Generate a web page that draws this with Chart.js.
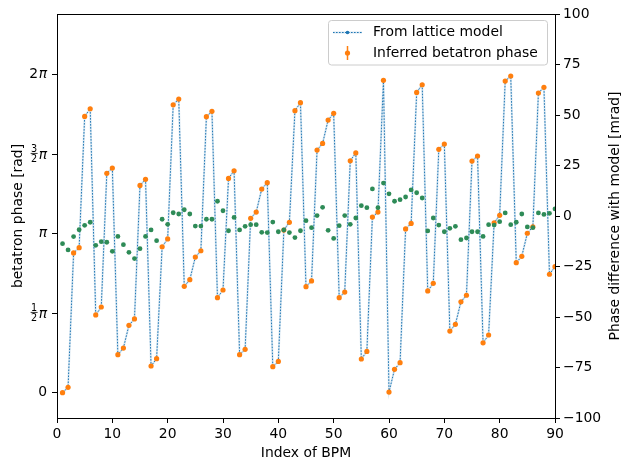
<!DOCTYPE html>
<html>
<head>
<meta charset="utf-8">
<script src="https://cdn.jsdelivr.net/npm/chart.js@4.4.0/dist/chart.umd.min.js"></script>
<style>
html, body { margin: 0; padding: 0; background: #fff; }
#wrap { width: 623px; height: 462px; }
</style>
</head>
<body>
<div id="wrap"><canvas id="chart" width="623" height="462"></canvas></div>
<script>
// BPM index along the ring
const bpmIndex = Array.from({length: 90}, (_, i) => i + 1);

// betatron phase, in units of pi (lattice model and inferred overlap at this scale)
const phaseInPi = [
  0.000, 0.034, 0.879, 0.912, 1.738, 1.786, 0.489, 0.539, 1.380, 1.413,
  0.239, 0.281, 0.424, 0.464, 1.304, 1.342, 0.168, 0.214, 0.918, 0.967,
  1.811, 1.847, 0.669, 0.711, 0.853, 0.893, 1.736, 1.770, 0.598, 0.646,
  1.348, 1.396, 0.239, 0.273, 1.097, 1.136, 1.281, 1.321, 0.164, 0.197,
  1.023, 1.072, 1.774, 1.824, 0.667, 0.703, 1.526, 1.568, 1.715, 1.757,
  0.598, 0.633, 1.459, 1.508, 0.212, 0.260, 1.105, 1.136, 1.965, 0.004,
  0.147, 0.189, 1.030, 1.065, 1.889, 1.937, 0.640, 0.688, 1.531, 1.564,
  0.388, 0.430, 0.572, 0.613, 1.457, 1.489, 0.314, 0.363, 1.069, 1.116,
  1.960, 1.992, 0.818, 0.858, 1.003, 1.044, 1.885, 1.921, 0.745, 0.793
];
const modelPhaseInPi = phaseInPi;

// phase difference with model [mrad]
const phaseDiffMrad = [
  -13.7, -16.8, -10.2, -6.8, -4.6, -3.1, -14.5, -12.7, -13.0, -17.5,
  -10.1, -14.2, -18.0, -21.1, -16.2, -10.1, -6.9, -12.2, -1.6, -4.1,
  1.6, 1.0, 3.1, 1.0, -5.0, -5.0, -1.6, -1.6, 7.3, 2.6,
  -7.3, -0.7, -6.9, -5.1, -4.3, -4.3, -8.1, -8.2, -3.0, -7.8,
  -6.9, -8.2, -10.7, -7.3, -2.3, -5.8, 0.2, 4.3, -7.1, -11.1,
  -4.8, 0.2, -4.1, -1.0, 5.1, 4.1, 13.4, 4.1, 16.3, 11.0,
  7.3, 8.1, 9.4, 12.9, 11.5, 8.9, -7.4, -1.0, -4.5, -7.8,
  -6.1, -5.1, -11.7, -10.9, -7.8, -7.8, -10.1, -4.3, -4.5, -2.8,
  1.5, -4.3, -3.1, 1.0, -5.4, -5.8, 1.5, 0.8, 1.3, 3.5
];

// left tick positions (units of pi) and their labels
const phaseTicks = [0, 0.5, 1, 1.5, 2];
const phaseTickLabels = ['0', '1/2π', 'π', '3/2π', '2π'];

const FONT = '"DejaVu Sans", sans-serif';
const BLUE = '#1f77b4';
const ORANGE = '#ff7f0e';
const GREEN = '#2e8b57';

function toPoints(ys) {
  return bpmIndex.map((x, i) => ({x: x, y: ys[i]}));
}

// draws "2π", "π", or a stacked fraction followed by an italic π, right aligned
function drawPiLabel(ctx, lab, right, y) {
  if (lab.indexOf('π') < 0) {
    ctx.font = '13.9px ' + FONT;
    ctx.textAlign = 'right';
    ctx.textBaseline = 'middle';
    ctx.fillText(lab, right, y);
    return;
  }
  const head = lab.replace('π', '');
  ctx.font = 'italic 13.9px ' + FONT;
  ctx.textAlign = 'right';
  ctx.textBaseline = 'middle';
  const frac = head.indexOf('/') >= 0;
  ctx.fillText('π', right, frac ? y + 1.5 : y);
  const piW = ctx.measureText('π').width;
  if (!frac) {
    ctx.font = '13.9px ' + FONT;
    if (head) ctx.fillText(head, right - piW - 0.5, y);
    return;
  }
  const parts = head.split('/');
  const cx = right - piW - 4.5;
  ctx.font = '9.7px ' + FONT;
  ctx.textAlign = 'center';
  ctx.textBaseline = 'alphabetic';
  ctx.fillText(parts[0], cx, y - 2.5);
  ctx.textBaseline = 'top';
  ctx.fillText(parts[1], cx, y + 0.5);
  ctx.fillRect(cx - 3.5, y - 1.3, 7, 0.8);
}

const decorations = {
  id: 'decorations',
  afterDraw(chart) {
    const ctx = chart.ctx;
    const a = chart.chartArea;
    const yLeft = chart.scales.y;
    ctx.save();

    // top spine
    ctx.strokeStyle = '#000';
    ctx.lineWidth = 1;
    ctx.beginPath();
    ctx.moveTo(a.left, a.top + 0.5);
    ctx.lineTo(a.right, a.top + 0.5);
    ctx.stroke();

    // left tick labels
    ctx.fillStyle = '#000';
    phaseTicks.forEach((v, i) => {
      drawPiLabel(ctx, phaseTickLabels[i], 47, yLeft.getPixelForValue(v));
    });

    // axis titles
    ctx.font = '13.9px ' + FONT;
    ctx.textAlign = 'center';
    ctx.textBaseline = 'middle';
    ctx.fillText('Index of BPM', (a.left + a.right) / 2, 453);
    const midY = (a.top + a.bottom) / 2;
    ctx.save();
    ctx.translate(18, midY);
    ctx.rotate(-Math.PI / 2);
    ctx.fillText('betatron phase [rad]', 0, 0);
    ctx.restore();
    ctx.save();
    ctx.translate(615, midY);
    ctx.rotate(-Math.PI / 2);
    ctx.fillText('Phase difference with model [mrad]', 0, 0);
    ctx.restore();

    // legend
    ctx.fillStyle = 'rgba(255,255,255,0.8)';
    ctx.strokeStyle = '#cccccc';
    ctx.lineWidth = 1;
    ctx.beginPath();
    ctx.roundRect(328.5, 20.5, 219, 44.5, 3);
    ctx.fill();
    ctx.stroke();

    ctx.strokeStyle = 'rgba(31,119,180,0.18)';
    ctx.lineWidth = 2;
    ctx.beginPath();
    ctx.moveTo(333, 32.5);
    ctx.lineTo(362, 32.5);
    ctx.stroke();
    ctx.strokeStyle = BLUE;
    ctx.lineWidth = 1;
    ctx.setLineDash([1.6, 1.4]);
    ctx.beginPath();
    ctx.moveTo(333, 32.5);
    ctx.lineTo(362, 32.5);
    ctx.stroke();
    ctx.setLineDash([]);
    ctx.fillStyle = BLUE;
    ctx.beginPath();
    ctx.arc(347.5, 32.5, 1.8, 0, Math.PI * 2);
    ctx.fill();

    ctx.strokeStyle = ORANGE;
    ctx.lineWidth = 1.5;
    ctx.beginPath();
    ctx.moveTo(347.5, 46);
    ctx.lineTo(347.5, 60);
    ctx.stroke();
    ctx.fillStyle = ORANGE;
    ctx.beginPath();
    ctx.arc(347.5, 53, 2.6, 0, Math.PI * 2);
    ctx.fill();

    ctx.fillStyle = '#000';
    ctx.font = '13.9px ' + FONT;
    ctx.textAlign = 'left';
    ctx.textBaseline = 'middle';
    ctx.fillText('From lattice model', 373, 32.5);
    ctx.fillText('Inferred betatron phase', 373, 53);

    ctx.restore();
  }
};

const tickFont = {family: FONT, size: 13.9};
const tickGrid = {drawOnChartArea: false, drawTicks: true, tickLength: 5, tickColor: '#000', color: '#000', tickWidth: 1};

new Chart(document.getElementById('chart'), {
  type: 'scatter',
  data: {
    datasets: [
      {
        label: 'Phase difference',
        data: toPoints(phaseDiffMrad),
        yAxisID: 'y2',
        pointRadius: 2.4,
        pointBackgroundColor: GREEN,
        pointBorderWidth: 0,
        order: 0
      },
      {
        label: 'Inferred betatron phase',
        data: toPoints(phaseInPi),
        yAxisID: 'y',
        pointRadius: 2.6,
        pointBackgroundColor: ORANGE,
        pointBorderWidth: 0,
        order: 1
      },
      {
        label: 'From lattice model',
        data: toPoints(modelPhaseInPi),
        yAxisID: 'y',
        showLine: true,
        borderColor: BLUE,
        borderWidth: 1,
        borderDash: [1.6, 1.4],
        pointRadius: 1.6,
        pointBackgroundColor: BLUE,
        pointBorderWidth: 0,
        order: 2
      },
      {
        // soft halo under the dotted model line
        label: 'model halo',
        data: toPoints(modelPhaseInPi),
        yAxisID: 'y',
        showLine: true,
        borderColor: 'rgba(31,119,180,0.18)',
        borderWidth: 2,
        pointRadius: 0,
        order: 3
      }
    ]
  },
  options: {
    responsive: false,
    animation: false,
    devicePixelRatio: 1,
    layout: {padding: {top: 14, left: 0, right: 0, bottom: 0}},
    plugins: {
      legend: {display: false},
      tooltip: {enabled: false}
    },
    scales: {
      x: {
        type: 'linear',
        position: 'bottom',
        min: 0,
        max: 90,
        ticks: {stepSize: 10, color: '#000', font: tickFont, padding: 3, maxRotation: 0},
        grid: tickGrid,
        border: {color: '#000', width: 1},
        afterFit: s => { s.height = 44; }
      },
      y: {
        type: 'linear',
        position: 'left',
        min: -0.159,
        max: 2.382,
        afterBuildTicks: s => { s.ticks = phaseTicks.map(v => ({value: v})); },
        ticks: {
          color: '#000',
          font: tickFont,
          padding: 4,
          callback: () => ''
        },
        grid: tickGrid,
        border: {color: '#000', width: 1},
        afterFit: s => { s.width = 57; }
      },
      y2: {
        type: 'linear',
        position: 'right',
        min: -100,
        max: 100,
        ticks: {
          stepSize: 25,
          color: '#000',
          font: tickFont,
          padding: 3,
          callback: v => v < 0 ? '\u2212' + Math.abs(v) : String(v)
        },
        grid: tickGrid,
        border: {color: '#000', width: 1},
        afterFit: s => { s.width = 68; }
      }
    }
  },
  plugins: [decorations]
});
</script>
</body>
</html>
